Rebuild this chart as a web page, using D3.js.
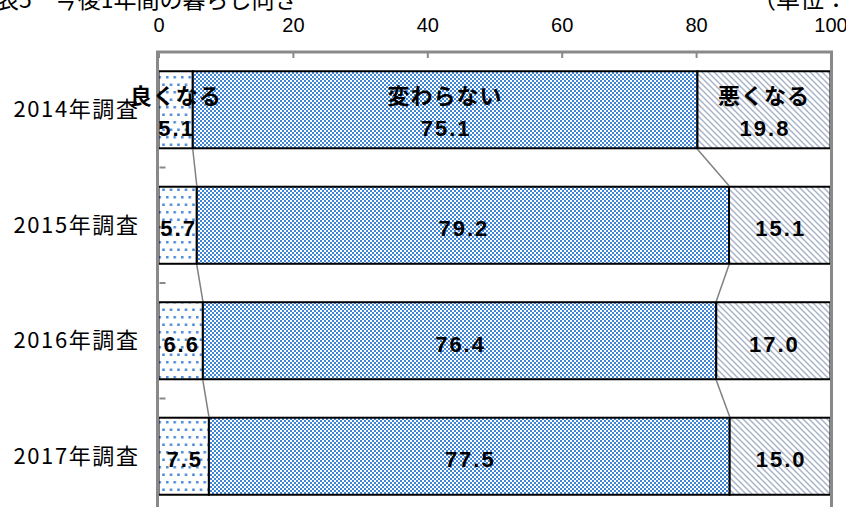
<!DOCTYPE html>
<html><head><meta charset="utf-8">
<script src="https://cdn.jsdelivr.net/npm/d3@7"></script>
<style>
html,body{margin:0;padding:0;background:#fff;overflow:hidden;}
svg{display:block;}
</style></head>
<body>
<svg id="chart" width="846" height="507"></svg>
<script>
const years = ["2014年調査","2015年調査","2016年調査","2017年調査"];
const seriesNames = ["良くなる","変わらない","悪くなる"];
const better = [5.1,5.7,6.6,7.5];
const same = [75.1,79.2,76.4,77.5];
const worse = [19.8,15.1,17.0,15.0];
const xTicks = [0,20,40,60,80,100];
const titleText = "表5　今後1年間の暮らし向き";
const unitText = "（単位：%）";

const svg = d3.select("#chart");
const jp = "'Noto Sans CJK JP','Noto Sans',sans-serif";

// patterns
const defs = svg.append("defs");
const pDots = defs.append("pattern").attr("id","pDots").attr("patternUnits","userSpaceOnUse")
  .attr("width",7.5).attr("height",15);
pDots.append("rect").attr("width",7.5).attr("height",15).attr("fill","#fff");
pDots.append("rect").attr("x",1).attr("y",1).attr("width",2.5).attr("height",2.5).attr("fill","#4a8ad6");
pDots.append("rect").attr("x",4.75).attr("y",8.5).attr("width",2.5).attr("height",2.5).attr("fill","#4a8ad6");

const pCheck = defs.append("pattern").attr("id","pCheck").attr("patternUnits","userSpaceOnUse")
  .attr("width",4).attr("height",4);
pCheck.append("rect").attr("width",4).attr("height",4).attr("fill","#fff");
pCheck.append("rect").attr("width",2).attr("height",2).attr("fill","#3f85d6");
pCheck.append("rect").attr("x",2).attr("y",2).attr("width",2).attr("height",2).attr("fill","#3f85d6");

const pDiag = defs.append("pattern").attr("id","pDiag").attr("patternUnits","userSpaceOnUse")
  .attr("width",6).attr("height",6);
pDiag.append("rect").attr("width",6).attr("height",6).attr("fill","#fff");
pDiag.append("path").attr("d","M-1,-1 L7,7 M-1,5 L1,7 M5,-1 L7,1")
  .attr("stroke","#a9b4c9").attr("stroke-width",1.5);

const fills = ["url(#pDots)","url(#pCheck)","url(#pDiag)"];

// scales
const topY = 52, step = 115.5;
const x = d3.scaleLinear().domain([0,100]).range([158.5,830.5]);
const y = d3.scaleBand().domain(years).range([topY, topY + step*years.length])
  .paddingInner(0.333).paddingOuter(0.1667);

const rows = years.map((yr,i)=>{
  const vals=[better[i],same[i],worse[i]];
  let c=0;
  return {year:yr, segs: vals.map((v,k)=>{const s={k,v,x0:c,x1:c+v}; c+=v; return s;})};
});

// title texts
svg.append("text").attr("x",-4).attr("y",8).attr("font-family",jp).attr("font-size",23)
  .attr("fill","#000").text(titleText);
svg.append("text").attr("x",752).attr("y",8).attr("font-family",jp).attr("font-size",24)
  .attr("fill","#000").text(unitText);

// bars
const g = svg.append("g");
rows.forEach(r=>{
  g.selectAll(null).data(r.segs).enter().append("rect")
    .attr("x",d=>x(d.x0)).attr("width",d=>x(d.x1)-x(d.x0))
    .attr("y",y(r.year)).attr("height",y.bandwidth())
    .attr("fill",d=>fills[d.k]).attr("stroke","#000").attr("stroke-width",2);
});

// connector lines
for(let i=0;i<rows.length-1;i++){
  [0,1].forEach(k=>{
    svg.append("line")
      .attr("x1",x(rows[i].segs[k].x1)).attr("y1",y(rows[i].year)+y.bandwidth()+1)
      .attr("x2",x(rows[i+1].segs[k].x1)).attr("y2",y(rows[i+1].year)-1)
      .attr("stroke","#808080").attr("stroke-width",1.5);
  });
}

// frame
svg.append("path")
  .attr("d",`M${x(0)-1},${y.range()[1]} V${topY} H${x(100)+1} V${y.range()[1]}`)
  .attr("fill","none").attr("stroke","#898989").attr("stroke-width",3);

// top axis
const ax = svg.append("g").attr("transform",`translate(0,${topY})`)
  .call(d3.axisTop(x).tickValues(xTicks).tickSize(-6).tickPadding(20).tickFormat(d3.format("d")));
ax.select(".domain").remove();
ax.selectAll(".tick line").attr("stroke","#898989").attr("stroke-width",2)
  .attr("y1",1).attr("y2",6);
ax.selectAll(".tick text").attr("font-family","'Liberation Sans',Arial,sans-serif")
  .attr("font-size",20).attr("fill","#000");

// left separators (band boundaries)
const bounds = years.slice(1).map(yr=>y(yr)-y.step()*y.paddingInner()/2);
svg.selectAll(null).data(bounds).enter().append("line")
  .attr("x1",x(0)+1).attr("x2",x(0)+7).attr("y1",d=>d).attr("y2",d=>d)
  .attr("stroke","#898989").attr("stroke-width",2);

// category labels
const ay = svg.append("g").attr("transform",`translate(${x(0)},0)`)
  .call(d3.axisLeft(y).tickSize(0).tickPadding(19));
ay.select(".domain").remove();
ay.selectAll(".tick text").attr("font-family",jp).attr("font-size",22)
  .attr("letter-spacing","1.6px").attr("fill","#000").attr("dy","0.35em");

// value labels
const numFont = "'Liberation Sans',Arial,sans-serif";
function valText(cx, yy, v){
  svg.append("text").attr("x",cx+1).attr("y",yy).attr("dy","0.36em")
    .attr("text-anchor","middle").attr("font-family",numFont).attr("font-weight","bold")
    .attr("font-size",22).attr("letter-spacing","2px").attr("fill","#000").text(v.toFixed(1));
}
rows.forEach((r,i)=>{
  const cy = y(r.year)+y.bandwidth()/2;
  r.segs.forEach(s=>{
    const cx = (x(s.x0)+x(s.x1))/2;
    if(i===0){
      svg.append("text").attr("x",cx).attr("y",cy-14).attr("dy","0.36em")
        .attr("text-anchor","middle").attr("font-family",jp).attr("font-weight","bold")
        .attr("font-size",22).attr("letter-spacing","1px").attr("fill","#000").text(seriesNames[s.k]);
      valText(cx, cy+18, s.v);
    } else {
      valText(cx, cy+3, s.v);
    }
  });
});
</script>
</body></html>
